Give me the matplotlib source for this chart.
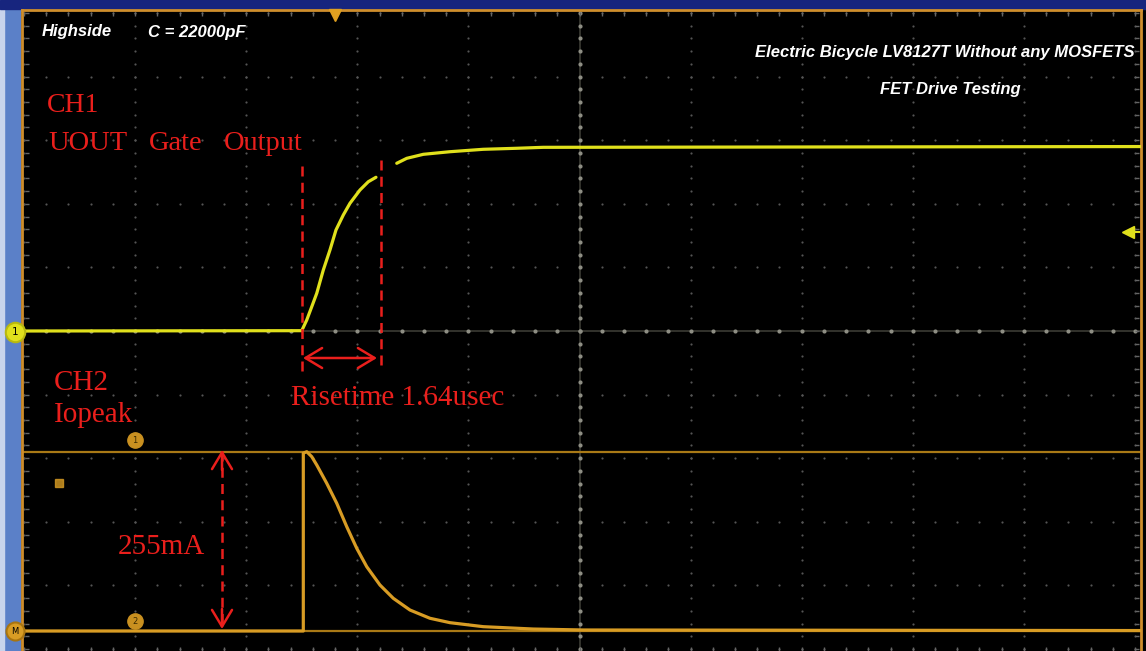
import matplotlib.pyplot as plt
import numpy as np
from matplotlib.patches import Rectangle

# screen is 10 x 10 divisions; values in divisions
ch1_t = [0.0, 2.500, 2.545, 2.590, 2.635, 2.694, 2.754, 2.808, 2.874, 2.934, 3.024, 3.099, 3.168,
         np.nan, 3.355, 3.445, 3.594, 3.834, 4.134, 4.435, 4.674, 10.05]
ch1_v = [5.0, 5.005, 5.173, 5.382, 5.593, 5.959, 6.274, 6.588, 6.824, 7.008, 7.217, 7.347, 7.417,
         np.nan, 7.637, 7.715, 7.778, 7.819, 7.857, 7.873, 7.888, 7.90]

ch2_t = [0.0, 2.514, 2.514, 2.545, 2.590, 2.635, 2.725, 2.815, 2.905, 2.995, 3.085, 3.204, 3.324,
         3.474, 3.654, 3.834, 4.134, 4.584, 5.034, 10.05]
ch2_v = [0.283, 0.283, 3.08, 3.102, 3.024, 2.893, 2.605, 2.291, 1.923, 1.583, 1.294, 1.006, 0.797,
         0.613, 0.483, 0.414, 0.351, 0.314, 0.299, 0.29]

cursor_levels = [3.10, 0.283]

YEL = "#e0e01c"
ORG = "#d89c24"
RED = "#ea1f1c"
GRID = "#555555"

W, H = 1146, 651
fig = plt.figure(figsize=(W / 100, H / 100), dpi=100)
fig.patch.set_facecolor("black")

# scope frame pieces
fig.patches.append(Rectangle((0, 0), 20 / W, 1, transform=fig.transFigure, color="#5b80c8", zorder=-2))
fig.patches.append(Rectangle((0, 0), 4 / W, 1, transform=fig.transFigure, color="#c8d4ec", zorder=-2))
fig.patches.append(Rectangle((0, 1 - 9 / H), 1, 9 / H, transform=fig.transFigure, color="#17257e", zorder=-2))

ax = fig.add_axes([22 / W, 0, (1141 - 22) / W, (651 - 10) / H])
ax.set_facecolor("black")
x0 = -2 / 111.1
ax.set_xlim(x0, x0 + 1119 / 111.1)
ax.set_ylim(5 - 320 / 63.6, 5 + 321 / 63.6)
ax.set_xticks([])
ax.set_yticks([])
for s in ["left", "top", "right"]:
    ax.spines[s].set_color("#cf8e2c")
    ax.spines[s].set_linewidth(2)
ax.spines["bottom"].set_visible(False)


def px(x, y):
    return ((x - 24) / 111.1, 5 + (331 - y) / 63.6)


# dotted graticule
minor = np.arange(0, 10.01, 0.2)
for k in range(0, 11):
    ax.scatter(np.full_like(minor, k), minor, s=2.5, color=GRID, zorder=1, linewidths=0)
    ax.scatter(minor, np.full_like(minor, k), s=2.5, color=GRID, zorder=1, linewidths=0)
# center crosshair: faint line with brighter dots
ax.axhline(5, color="#3c3c34", lw=1.2, zorder=1)
ax.axvline(5, color="#3c3c34", lw=1.2, zorder=1)
ax.scatter(minor, np.full_like(minor, 5), s=9, color="#8e8e84", zorder=1, linewidths=0)
ax.scatter(np.full_like(minor, 5), minor, s=9, color="#8e8e84", zorder=1, linewidths=0)
# edge ticks
ax.scatter(minor, np.full_like(minor, 9.98), marker="|", s=12, color="#666666", zorder=1, linewidths=1)
ax.scatter(np.full_like(minor, 0.03), minor, marker="_", s=12, color="#666666", zorder=1, linewidths=1)
ax.scatter(np.full_like(minor, 10.02), minor, marker="_", s=12, color="#666666", zorder=1, linewidths=1)
ax.scatter(minor, np.full_like(minor, 0.0), marker="|", s=12, color="#666666", zorder=1, linewidths=1)

# cursors
for lv in cursor_levels:
    ax.axhline(lv, color="#a97916", lw=1.6, zorder=2)

# traces
ax.plot(ch1_t, ch1_v, color=YEL, lw=2.3, zorder=4, solid_capstyle="round", solid_joinstyle="round")
ax.plot(ch2_t, ch2_v, color=ORG, lw=2.3, zorder=4, solid_joinstyle="round")

# channel markers
ax.plot(*px(15, 332), marker="o", ms=14, color=YEL, mec="#b8b810", mew=1.5, clip_on=False, zorder=10)
ax.text(*px(15, 332), "1", color="black", fontsize=7.5, ha="center", va="center", clip_on=False, zorder=11)
ax.plot(*px(15, 631), marker="o", ms=13, color=ORG, mec="#a87410", mew=1.5, clip_on=False, zorder=10)
ax.text(*px(15, 631), "M", color="black", fontsize=6, ha="center", va="center", clip_on=False, zorder=11)
for cy, lab in ((440, "1"), (621, "2")):
    ax.plot(*px(135, cy), marker="o", ms=11, color="#c99020", zorder=6)
    ax.text(*px(135, cy), lab, color="#3a2a00", fontsize=6, ha="center", va="center", zorder=7)
ax.plot(*px(59, 483), marker="s", ms=6, color=ORG, alpha=0.8, zorder=6)
ax.plot(*px(335, 15), marker="v", ms=9, color="#e0a020", clip_on=False, zorder=6)
ax.plot(*px(1128, 232), marker="<", ms=9, color=YEL, zorder=6)
ax.plot([px(1128, 232)[0], px(1141, 232)[0]], [px(1128, 232)[1]] * 2, color=YEL, lw=1.5)

# white header text
wt = dict(color="white", fontweight="bold", fontstyle="italic", family="Liberation Sans", fontsize=12)
ax.text(*px(42, 31), "Highside", va="center", ha="left", **wt)
ax.text(*px(148, 33), "C = 22000pF", va="center", ha="left", **wt)
ax.text(*px(1135, 52), "Electric Bicycle LV8127T Without any MOSFETS", va="center", ha="right", **wt)
ax.text(*px(950, 89), "FET Drive Testing", va="center", ha="center", **wt)

# red annotations
rt = dict(color=RED, family="Liberation Serif", fontsize=21)
ax.text(*px(47, 106), "CH1", va="center", ha="left", **dict(rt, fontsize=20))
ax.text(*px(48, 143), "UOUT", va="center", ha="left", **dict(rt, fontsize=20.5))
ax.text(*px(149, 143), "Gate", va="center", ha="left", **dict(rt, fontsize=20.5))
ax.text(*px(224, 143), "Output", va="center", ha="left", **dict(rt, fontsize=20.5))
ax.text(*px(398, 398), "Risetime 1.64usec", va="center", ha="center", **rt)
ax.text(*px(54, 383), "CH2", va="center", ha="left", **rt)
ax.text(*px(54, 415), "Iopeak", va="center", ha="left", **rt)
ax.text(*px(161, 547), "255mA", va="center", ha="center", **rt)

dash = (0, (4, 2.5))
for xx, ya, yb in ((302, 166, 372), (381, 160, 367)):
    ax.plot([px(xx, ya)[0]] * 2, [px(xx, ya)[1], px(xx, yb)[1]], color=RED, lw=1.8, ls=dash, zorder=5)

head = dict(arrowstyle="->,head_length=0.5,head_width=0.3", color=RED, lw=1.8,
            mutation_scale=24, shrinkA=0, shrinkB=0)
ax.annotate("", xy=px(303, 358), xytext=px(377, 358), arrowprops=dict(head, arrowstyle="<->,head_length=0.5,head_width=0.3"))
# dashed vertical span with solid heads
ax.plot([px(222, 451)[0]] * 2, [px(222, 451)[1], px(222, 628)[1]], color=RED, lw=1.8, ls=dash, zorder=5)
ax.annotate("", xy=px(222, 450), xytext=px(222, 470), arrowprops=head)
ax.annotate("", xy=px(222, 629), xytext=px(222, 609), arrowprops=head)

fig.savefig("out.png", dpi=100, facecolor=fig.get_facecolor())
